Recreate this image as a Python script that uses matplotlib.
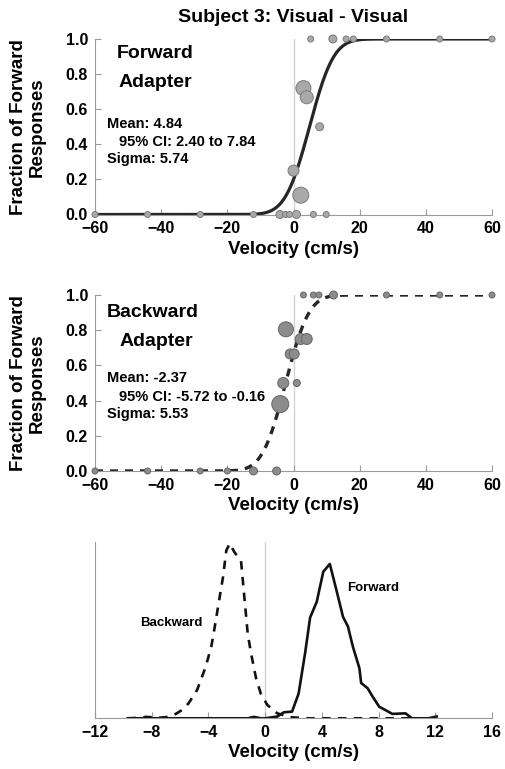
import numpy as np
import matplotlib
matplotlib.use("Agg")
import matplotlib.pyplot as plt
from math import erf, sqrt

plt.rcParams['font.family'] = ['Liberation Sans', 'DejaVu Sans']
plt.rcParams['font.weight'] = 'bold'

# psychometric data: velocity, fraction forward, marker diameter (px)
fwd_x = [5.2, 11.9, 15.9, 18.1, 28.1, 44.2, 60,
         3.0, 4.0, 7.9, 0.0, 2.2,
         -60, -44.1, -28.2, -12.1, -4.1, -2.4, -1.2, 0.9, 6.0, 9.9]
fwd_y = [1, 1, 1, 1, 1, 1, 1,
         0.72, 0.668, 0.50, 0.25, 0.11,
         0, 0, 0, 0, 0, 0, 0, 0, 0, 0]
fwd_d = [6, 8, 6, 6, 6, 6, 6,
         15, 13, 8, 11, 16,
         6, 6, 6, 6, 8, 6, 6, 8, 6, 6]
fwd_mean, fwd_sigma = 4.84, 5.74

bwd_x = [3.0, 6.0, 7.7, 12.1, 28.1, 44.2, 60,
         -2.3, 2.2, 4.0, -1.0, 0.2, -3.1, 1.0, -4.0,
         -60, -44.1, -28.2, -20.0, -12.1, -5.1]
bwd_y = [1, 1, 1, 1, 1, 1, 1,
         0.805, 0.75, 0.75, 0.665, 0.665, 0.50, 0.50, 0.38,
         0, 0, 0, 0, 0, 0]
bwd_d = [6, 6, 6, 8, 6, 6, 6,
         15, 11, 11, 10, 10, 11, 7, 17,
         6, 6, 6, 6, 8, 8]
bwd_mean, bwd_sigma = -2.37, 5.53

# distributions of the mean (bootstrap)
dist_bwd_x = [-9.7, -8.8, -8.4, -7.5, -6.8, -6.3, -5.8, -5.4, -4.8, -4.2, -3.8,
              -3.55, -3.2, -2.97, -2.74, -2.5, -2.16, -1.7, -1.46, -1.23, -1.0,
              -0.65, -0.31, 0.16, 0.86, 1.78, 3.0, 5.0, 8.0, 10.4]
dist_bwd_y = [0, 0.003, 0.008, 0.003, 0.008, 0.025, 0.05, 0.085, 0.16, 0.29, 0.405,
              0.52, 0.69, 0.8, 0.95, 0.99, 0.94, 0.89, 0.68, 0.48, 0.37,
              0.23, 0.14, 0.075, 0.028, 0.006, 0, 0, 0, 0]
dist_fwd_x = [-9.7, -4.0, -1.2, -0.8, -0.3, 0.0, 0.86, 1.32, 1.9, 2.36, 2.82,
              3.17, 3.64, 4.1, 4.56, 5.03, 5.49, 5.84, 6.19, 6.65, 6.77,
              7.23, 7.58, 8.04, 8.97, 9.9, 10.36, 11.5, 12.1]
dist_fwd_y = [0, 0, 0, 0.008, 0, 0, 0.01, 0.034, 0.038, 0.14, 0.37,
              0.57, 0.66, 0.83, 0.874, 0.725, 0.575, 0.52, 0.405, 0.283, 0.2,
              0.17, 0.123, 0.066, 0.025, 0.028, 0, 0, 0.01]

gray_spine = '#9a9a9a'


def cum_normal(x, mu, sd):
    return np.array([0.5 * (1 + erf((v - mu) / (sd * sqrt(2)))) for v in x])


def style_axes(ax, xticks):
    for s in ['top', 'right']:
        ax.spines[s].set_visible(False)
    for s in ['left', 'bottom']:
        ax.spines[s].set_color(gray_spine)
        ax.spines[s].set_linewidth(0.8)
    ax.set_xticks(xticks)
    ax.tick_params(direction='in', length=4, color=gray_spine, labelsize=11.5, pad=5)
    for lab in ax.get_xticklabels() + ax.get_yticklabels():
        lab.set_fontweight('bold')
    ax.set_xlabel('Velocity (cm/s)', fontsize=13.5, fontweight='bold', labelpad=3)


fig = plt.figure(figsize=(5.05, 7.69), dpi=100)
W, H = 505, 769
left, right = 95, 492
ax1 = fig.add_axes([left / W, 1 - 214.5 / H, (right - left) / W, 175.5 / H])
ax2 = fig.add_axes([left / W, 1 - 471 / H, (right - left) / W, 176 / H])
ax3 = fig.add_axes([left / W, 1 - 718.3 / H, (right - left) / W, 176.6 / H])

vx = np.linspace(-60, 60, 600)

# panel 1: forward adapter
ax1.axvline(0, color='#d4d4d4', lw=1, zorder=0)
ax1.plot(vx, cum_normal(vx, fwd_mean, fwd_sigma), color='#262626', lw=2.3, zorder=2)
ax1.scatter(fwd_x, fwd_y, s=(np.array(fwd_d) / 1.389) ** 2, facecolor='#a9a9a9',
            edgecolor='#7a7a7a', linewidth=0.7, zorder=3, clip_on=False)
ax1.set_xlim(-60, 60)
ax1.set_ylim(0, 1)
ax1.set_yticks(np.arange(0, 1.01, 0.2))
ax1.set_yticklabels(['0.0', '0.2', '0.4', '0.6', '0.8', '1.0'])
style_axes(ax1, np.arange(-60, 61, 20))
ax1.set_ylabel('Fraction of Forward\nResponses', fontsize=13.5, fontweight='bold',
               linespacing=1.1)
ax1.yaxis.set_label_coords(-0.125, 0.5)
ax1.set_title('Subject 3: Visual - Visual', fontsize=14, fontweight='bold', pad=12)
ax1.text(-41.8, 0.92, 'Forward', fontsize=14, ha='center', va='center', fontweight='bold')
ax1.text(-41.8, 0.75, 'Adapter', fontsize=14, ha='center', va='center', fontweight='bold')
ax1.text(-56.5, 0.516, 'Mean: 4.84', fontsize=10.5, va='center', fontweight='bold')
ax1.text(-52.7, 0.415, '95% CI: 2.40 to 7.84', fontsize=10.5, va='center', fontweight='bold')
ax1.text(-56.5, 0.314, 'Sigma: 5.74', fontsize=10.5, va='center', fontweight='bold')

# panel 2: backward adapter
ax2.axvline(0, color='#d4d4d4', lw=1, zorder=0)
ax2.plot(vx, cum_normal(vx, bwd_mean, bwd_sigma), color='#262626', lw=2.4,
         linestyle=(0, (2.4, 2.1)), zorder=2)
ax2.scatter(bwd_x, bwd_y, s=(np.array(bwd_d) / 1.389) ** 2, facecolor='#8c8c8c',
            edgecolor='#666666', linewidth=0.7, zorder=3, clip_on=False)
ax2.set_xlim(-60, 60)
ax2.set_ylim(0, 1)
ax2.set_yticks(np.arange(0, 1.01, 0.2))
ax2.set_yticklabels(['0.0', '0.2', '0.4', '0.6', '0.8', '1.0'])
style_axes(ax2, np.arange(-60, 61, 20))
ax2.set_ylabel('Fraction of Forward\nResponses', fontsize=13.5, fontweight='bold',
               linespacing=1.1)
ax2.yaxis.set_label_coords(-0.125, 0.5)
ax2.text(-42.4, 0.90, 'Backward', fontsize=14, ha='center', va='center', fontweight='bold')
ax2.text(-41.6, 0.735, 'Adapter', fontsize=14, ha='center', va='center', fontweight='bold')
ax2.text(-56.5, 0.53, 'Mean: -2.37', fontsize=10.5, va='center', fontweight='bold')
ax2.text(-52.7, 0.422, '95% CI: -5.72 to -0.16', fontsize=10.5, va='center', fontweight='bold')
ax2.text(-56.5, 0.322, 'Sigma: 5.53', fontsize=10.5, va='center', fontweight='bold')

# panel 3: distributions
ax3.axvline(0, color='#d4d4d4', lw=1, zorder=0)
ax3.plot(dist_bwd_x, dist_bwd_y, color='#111111', lw=1.9, linestyle=(0, (3.2, 2.8)))
ax3.plot(dist_fwd_x, dist_fwd_y, color='#111111', lw=1.9)
ax3.set_xlim(-12, 16)
ax3.set_ylim(0, 1)
ax3.set_yticks([])
style_axes(ax3, np.arange(-12, 17, 4))
ax3.text(-6.6, 0.54, 'Backward', fontsize=9.5, ha='center', va='center', fontweight='bold')
ax3.text(7.6, 0.74, 'Forward', fontsize=9.5, ha='center', va='center', fontweight='bold')

fig.savefig('out.png', dpi=100)
